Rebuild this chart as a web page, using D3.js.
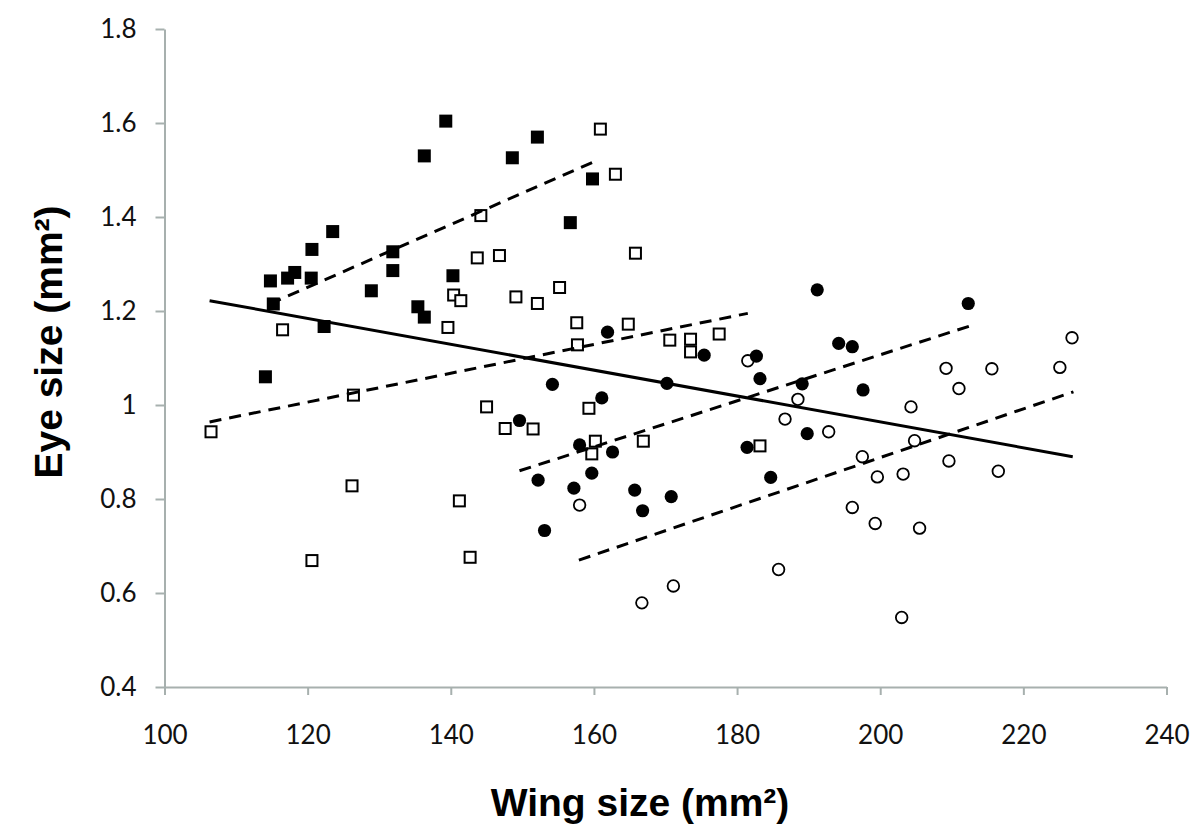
<!DOCTYPE html>
<html>
<head>
<meta charset="utf-8">
<script src="https://cdn.jsdelivr.net/npm/d3@7.9.0/dist/d3.min.js"></script>
<style>
  body { margin: 0; background: #fff; }
  svg { display: block; }
</style>
</head>
<body>
<div id="chart"></div>
<script>
// wing size (mm2) / eye size (mm2), one array per group
const filledSquares = [
  [114.1, 1.060], [114.8, 1.264], [115.2, 1.215], [117.2, 1.270], [118.2, 1.282],
  [120.5, 1.270], [120.6, 1.331], [122.3, 1.167], [123.5, 1.369], [128.9, 1.243],
  [131.9, 1.326], [131.9, 1.286], [135.4, 1.209], [136.3, 1.187], [136.3, 1.530],
  [139.3, 1.604], [140.3, 1.275], [148.6, 1.526], [152.1, 1.570], [156.7, 1.388],
  [159.8, 1.481]
];
const openSquares = [
  [106.5, 0.943], [116.5, 1.160], [120.6, 0.669], [126.2, 0.828], [126.4, 1.021],
  [139.6, 1.165], [140.4, 1.234], [141.2, 0.796], [141.4, 1.222], [142.7, 0.676],
  [143.7, 1.313], [144.2, 1.403], [145.0, 0.996], [146.8, 1.318], [147.6, 0.950],
  [149.1, 1.230], [151.5, 0.949], [152.1, 1.216], [155.2, 1.250], [157.6, 1.175],
  [157.7, 1.128], [159.3, 0.993], [159.7, 0.896], [160.2, 0.923], [160.9, 1.587],
  [163.0, 1.491], [164.8, 1.172], [165.8, 1.323], [166.9, 0.923], [170.6, 1.138],
  [173.5, 1.140], [173.5, 1.113], [177.5, 1.151], [183.2, 0.913]
];
const filledCircles = [
  [149.6, 0.967], [152.2, 0.840], [153.1, 0.733], [154.2, 1.044], [157.2, 0.823],
  [158.0, 0.915], [159.7, 0.855], [161.1, 1.015], [161.9, 1.155], [162.6, 0.900],
  [165.7, 0.819], [166.8, 0.775], [170.2, 1.046], [170.8, 0.805], [175.4, 1.106],
  [181.4, 0.910], [182.7, 1.104], [183.2, 1.056], [184.7, 0.846], [189.1, 1.045],
  [189.8, 0.939], [191.2, 1.245], [194.2, 1.131], [196.1, 1.124], [197.6, 1.032],
  [212.3, 1.216]
];
const openCircles = [
  [158.0, 0.787], [166.7, 0.579], [171.1, 0.615], [181.5, 1.094], [185.8, 0.650],
  [186.7, 0.970], [188.5, 1.012], [192.8, 0.943], [196.1, 0.782], [197.5, 0.890],
  [199.3, 0.748], [199.6, 0.847], [203.0, 0.548], [203.2, 0.853], [204.3, 0.996],
  [204.8, 0.924], [205.5, 0.738], [209.2, 1.078], [209.6, 0.881], [211.0, 1.035],
  [215.6, 1.077], [216.5, 0.859], [225.1, 1.080], [226.8, 1.143]
];

// trend lines: [start, end]
const overallTrend = [[106.3, 1.222], [226.9, 0.890]];
const groupTrends = [
  [[114.7, 1.215], [159.9, 1.517]],
  [[106.3, 0.964], [181.5, 1.195]],
  [[149.6, 0.860], [212.5, 1.168]],
  [[157.9, 0.670], [227.0, 1.028]]
];

const xTicks = [100, 120, 140, 160, 180, 200, 220, 240];
const yTicks = [0.4, 0.6, 0.8, 1.0, 1.2, 1.4, 1.6, 1.8];

const width = 1200, height = 835;
const axisColor = "#a7b0ae";
const tickFont = "Lato, 'Open Sans', sans-serif";

const svg = d3.select("#chart").append("svg")
  .attr("width", width)
  .attr("height", height);

const x = d3.scaleLinear().domain([100, 240]).range([164.5, 1166.5]);
const y = d3.scaleLinear().domain([0.4, 1.8]).range([687, 29]);

// axes
const xAxis = svg.append("g")
  .attr("transform", `translate(0,${y(0.4)})`)
  .call(d3.axisBottom(x).tickValues(xTicks).tickSize(8).tickSizeOuter(0)
    .tickFormat(d3.format("d")));
const yAxis = svg.append("g")
  .attr("transform", `translate(${x(100)},0)`)
  .call(d3.axisLeft(y).tickValues(yTicks).tickSize(9).tickSizeOuter(0)
    .tickFormat(d => d === 1 ? "1" : d3.format(".1f")(d)));

[xAxis, yAxis].forEach(g => {
  g.select(".domain").attr("stroke", axisColor).attr("stroke-width", 2);
  g.selectAll(".tick line").attr("stroke", axisColor).attr("stroke-width", 2);
  g.selectAll(".tick text")
    .attr("fill", "#111")
    .style("font-family", tickFont)
    .style("font-size", "26px");
});
xAxis.selectAll(".tick text").attr("dy", "0.32em").attr("y", 49);
yAxis.selectAll(".tick text").attr("x", -28);

// points
const sq = 13;
svg.append("g").selectAll("rect")
  .data(openSquares)
  .join("rect")
  .attr("x", d => x(d[0]) - sq / 2 + 1)
  .attr("y", d => y(d[1]) - sq / 2 + 1)
  .attr("width", sq - 2)
  .attr("height", sq - 2)
  .attr("fill", "#fff")
  .attr("stroke", "#000")
  .attr("stroke-width", 2);

svg.append("g").selectAll("rect")
  .data(filledSquares)
  .join("rect")
  .attr("x", d => x(d[0]) - sq / 2)
  .attr("y", d => y(d[1]) - sq / 2)
  .attr("width", sq)
  .attr("height", sq)
  .attr("fill", "#000");

svg.append("g").selectAll("circle")
  .data(openCircles)
  .join("circle")
  .attr("cx", d => x(d[0]))
  .attr("cy", d => y(d[1]))
  .attr("r", 5.8)
  .attr("fill", "#fff")
  .attr("stroke", "#000")
  .attr("stroke-width", 1.8);

svg.append("g").selectAll("circle")
  .data(filledCircles)
  .join("circle")
  .attr("cx", d => x(d[0]))
  .attr("cy", d => y(d[1]))
  .attr("r", 6.6)
  .attr("fill", "#000");

// trend lines
const line = d3.line().x(d => x(d[0])).y(d => y(d[1]));
svg.append("g").selectAll("path")
  .data(groupTrends)
  .join("path")
  .attr("d", line)
  .attr("fill", "none")
  .attr("stroke", "#000")
  .attr("stroke-width", 3)
  .attr("stroke-dasharray", "12,8");

svg.append("path")
  .attr("d", line(overallTrend))
  .attr("fill", "none")
  .attr("stroke", "#000")
  .attr("stroke-width", 3);

// axis titles
svg.append("text")
  .attr("x", 640)
  .attr("y", 816)
  .attr("text-anchor", "middle")
  .style("font-family", "'Liberation Sans', Arial, sans-serif")
  .style("font-weight", "bold")
  .style("font-size", "39px")
  .text("Wing size (mm²)");

svg.append("text")
  .attr("transform", "translate(62,342) rotate(-90)")
  .attr("text-anchor", "middle")
  .style("font-family", "'Liberation Sans', Arial, sans-serif")
  .style("font-weight", "bold")
  .style("font-size", "39px")
  .text("Eye size (mm²)");
</script>
</body>
</html>
